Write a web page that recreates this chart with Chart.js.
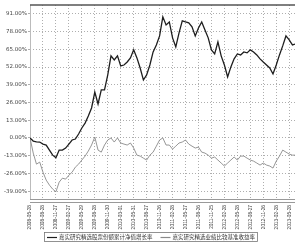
<!DOCTYPE html>
<html>
<head>
<meta charset="utf-8">
<script src="https://cdn.jsdelivr.net/npm/chart.js@4/dist/chart.umd.min.js"></script>
<style>
html,body{margin:0;padding:0;background:#fff;}
#wrap{width:300px;height:242px;}
</style>
</head>
<body>
<div id="wrap"><canvas id="c" width="300" height="242"></canvas></div>
<script>
// x tick labels (dates)
const xLabels = ["2008-05-28","2008-08-28","2008-11-27","2009-02-27","2009-05-29","2009-08-28","2009-11-30","2010-03-01","2010-05-31","2010-08-27","2010-11-26","2011-02-28","2011-05-27","2011-08-26","2011-11-25","2012-02-28","2012-05-28","2012-08-27","2012-11-26","2013-02-28","2013-05-28"];
// y tick values (%)
const yTicks = [-39, -26, -13, 0, 13, 26, 39, 52, 65, 78, 91];
// sampling interval of the series, in x-tick units
const sampleStep = 0.25;
// fund NAV growth (%)
const fundValues = [0,-2.3,-2.8,-3.0,-4.5,-5.2,-8.9,-12.6,-14.5,-8.9,-8.9,-7.4,-4.5,-1.5,-0.8,2.9,7.3,10.9,16.1,22.0,33.7,24.9,35.2,35.2,46.2,60.2,57.2,60.2,52.8,53.5,55.7,58.7,64.6,58.7,51.3,42.5,46.2,53.5,63.1,68.2,74.8,88.8,82.9,85.1,73.4,66.8,77.0,85.9,85.1,84.4,81.5,74.8,80.7,85.1,79.2,73.4,64.6,61.6,70.4,60.2,53.5,44.7,52.1,58.0,61.6,60.9,63.1,62.4,64.6,63.1,60.9,58.0,55.7,53.5,51.3,46.9,53.5,60.9,67.5,74.8,71.9,68.2,69.0];
// benchmark return (%)
const benchValues = [0,-11.1,-19.2,-17.7,-25.1,-30.9,-34.6,-37.5,-39.5,-32.4,-29.5,-30.2,-27.3,-25.1,-21.4,-19.2,-16.2,-13.3,-9.6,-5.2,0.7,-8.9,-10.4,-5.2,-1.5,0,-3.0,0,-3.7,-4.5,-5.2,-3.7,-7.4,-12.6,-13.3,-14.8,-16.2,-12.6,-10.4,-6.0,-1.5,0,-5.2,-5.2,-8.2,-6.0,-3.7,-3.0,-1.5,-4.5,-6.0,-7.4,-6.7,-10.4,-11.1,-12.6,-14.8,-14.0,-16.2,-18.4,-20.6,-18.4,-16.2,-14.0,-16.2,-13.3,-13.3,-14.8,-16.2,-17.0,-18.4,-19.9,-18.4,-19.9,-20.6,-22.1,-17.0,-13.3,-8.9,-10.4,-11.8,-12.6,-12.6];
const seriesNames = ["嘉实研究精选股票份额累计净值增长率","嘉实研究精选业绩比较基准收益率"];
const seriesColors = ['#1e1e1e', '#8a8a8a'];

const toPts = arr => arr.map((v,i)=>({x:i*sampleStep, y:v}));

const framePlugin = {
  id:'frame',
  beforeDatasetsDraw(chart){
    const a = chart.chartArea, ctx = chart.ctx;
    ctx.save();
    ctx.strokeStyle = '#bbb'; ctx.lineWidth = 1;
    ctx.beginPath(); ctx.moveTo(a.left+0.5, a.top); ctx.lineTo(a.left+0.5, a.bottom); ctx.stroke();
    ctx.strokeStyle = '#999';
    ctx.beginPath(); ctx.moveTo(a.left, a.bottom-0.5); ctx.lineTo(a.right, a.bottom-0.5); ctx.stroke();
    ctx.beginPath(); ctx.moveTo(a.left, a.bottom+2.5); ctx.lineTo(a.right, a.bottom+2.5); ctx.stroke();
    ctx.strokeStyle = '#555'; ctx.lineWidth = 1.5;
    ctx.beginPath(); ctx.moveTo(a.left, a.top); ctx.lineTo(a.right, a.top); ctx.stroke();
    ctx.restore();
  },
  afterDraw(chart){
    // legend drawn along the bottom, boxed
    const ctx = chart.ctx; ctx.save();
    ctx.font = '5.5px "Noto Sans CJK SC", sans-serif';
    ctx.textBaseline = 'middle';
    const lineW = 10, gapLT = 2, gapItems = 8;
    const widths = seriesNames.map(n => lineW + gapLT + ctx.measureText(n).width);
    const total = widths[0] + widths[1] + gapItems;
    const cx = 151, cy = 237;
    let x = cx - total/2;
    const x0 = x;
    seriesNames.forEach((n,i)=>{
      ctx.strokeStyle = seriesColors[i]; ctx.lineWidth = 1.2;
      ctx.beginPath(); ctx.moveTo(x, cy+0.5); ctx.lineTo(x+lineW, cy+0.5); ctx.stroke();
      ctx.fillStyle = '#333';
      ctx.fillText(n, x + lineW + gapLT, cy);
      x += widths[i] + gapItems;
    });
    ctx.strokeStyle = '#777'; ctx.lineWidth = 0.8;
    ctx.strokeRect(Math.round(x0)-2.5, cy-4.5, Math.round(total)+5, 9);
    ctx.restore();
  }
};

new Chart(document.getElementById('c'), {
  type:'line',
  data:{
    datasets:[
      {label:seriesNames[0], data:toPts(fundValues), borderColor:seriesColors[0], borderWidth:1.3, pointRadius:0, tension:0, fill:false},
      {label:seriesNames[1], data:toPts(benchValues), borderColor:seriesColors[1], borderWidth:0.9, pointRadius:0, tension:0, fill:false}
    ]
  },
  options:{
    responsive:false, animation:false, devicePixelRatio:1,
    layout:{padding:{top:5,right:2,left:0,bottom:10}},
    plugins:{ legend:{display:false}, tooltip:{enabled:false} },
    scales:{
      x:{type:'linear', min:0, max:20.45,
        afterBuildTicks(s){ s.ticks = xLabels.map((_,i)=>({value:i})); },
        afterFit(s){ s.height = 32; },
        border:{display:false, dash:[1,2]},
        grid:{color:'#999', lineWidth:0.8, drawTicks:false},
        ticks:{autoSkip:false, maxRotation:90, minRotation:90, padding:5, color:'#444', font:{family:'"Liberation Sans", sans-serif', size:4.8},
          callback:(v)=> xLabels[v] !== undefined ? xLabels[v] : ''}
      },
      y:{min:-45.5, max:97.5,
        afterBuildTicks(s){ s.ticks = yTicks.map(v=>({value:v})); },
        afterFit(s){ s.width = 30; },
        border:{display:false, dash:[1,2]},
        grid:{color:'#999', lineWidth:0.8, tickLength:2},
        ticks:{padding:1, color:'#444', font:{family:'"DejaVu Sans", sans-serif', size:5.5},
          callback:(v)=> v.toFixed(2)+'%'}
      }
    }
  },
  plugins:[framePlugin]
});
</script>
</body>
</html>
